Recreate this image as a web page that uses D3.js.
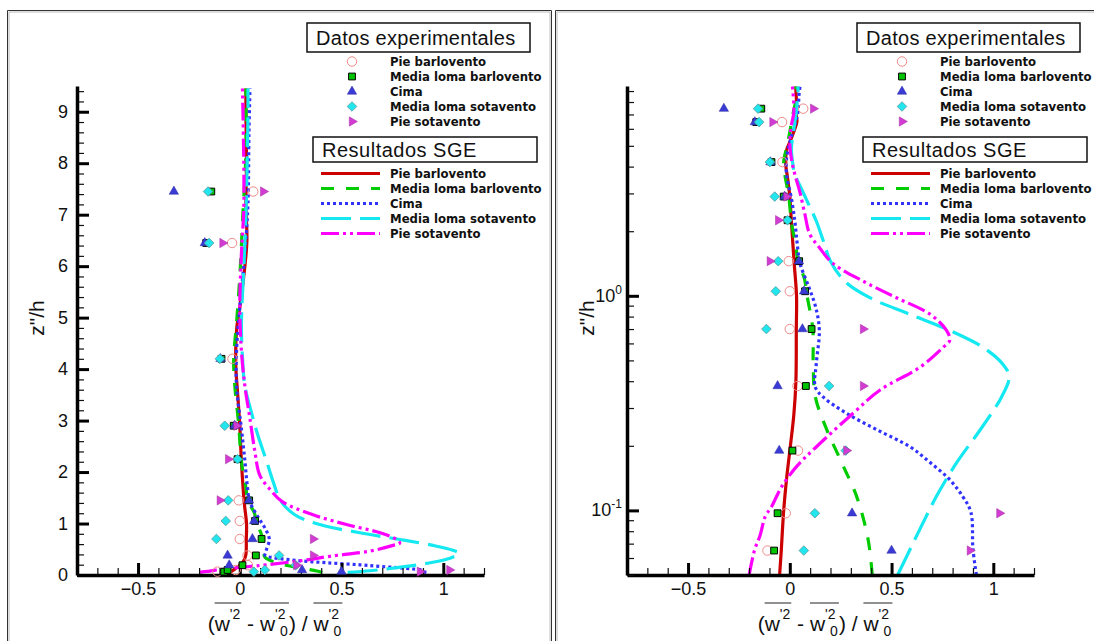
<!DOCTYPE html>
<html>
<head>
<meta charset="utf-8">
<script src="https://cdn.jsdelivr.net/npm/d3@7"></script>
<style>
  body { margin: 0; background: #fff; }
  svg text { fill: #111; }
</style>
</head>
<body>
<svg id="chart" width="1094" height="641" font-family="Liberation Sans, Arial, sans-serif"></svg>
<script>
// ---- data (z''/h on the vertical axis, normalised variance on the horizontal one)

// experimental measurement heights
const zExp = [0.065, 0.097, 0.19, 0.38, 0.70, 1.05, 1.45, 2.25, 2.9, 4.2, 6.45, 7.45];
const pieBarloventoExp = [-0.11, -0.02, 0.04, 0.038, 0.0, 0.0, -0.005, null, null, -0.036, -0.038, 0.066];
const mediaBarloventoExp = [-0.077, -0.06, 0.013, 0.079, 0.107, 0.075, 0.046, -0.011, -0.03, -0.09, -0.165, -0.14];
const cimaExp = [0.5, 0.306, -0.052, -0.06, 0.062, 0.07, 0.045, null, -0.025, -0.095, -0.172, -0.324];
const mediaSotaventoExp = [0.069, 0.123, 0.275, 0.193, -0.115, -0.069, -0.057, -0.011, -0.074, -0.098, -0.151, -0.156];
const pieSotaventoExp = [0.885, 1.03, 0.278, 0.36, 0.36, null, -0.098, -0.057, -0.016, null, -0.085, 0.115];

// LES (SGE) profiles
const pieBarloventoZ = [0.05, 0.065, 0.1, 0.14, 0.2, 0.28, 0.4, 0.7, 1.0, 1.4, 2.2, 2.9, 3.6, 4.1, 4.8, 5.2, 6.0, 6.5, 7.2, 8.0, 9.0, 9.45];
const pieBarloventoX = [-0.05, -0.042, -0.03, -0.016, 0.003, 0.02, 0.03, 0.032, 0.033, 0.022, 0.008, 0.0, -0.012, -0.02, -0.015, 0.0, 0.025, 0.035, 0.03, 0.033, 0.03, 0.03];

const mediaBarloventoZ = [0.05, 0.073, 0.115, 0.167, 0.24, 0.34, 0.48, 0.7, 1.0, 1.2, 1.45, 1.7, 2.2, 2.9, 3.7, 4.2, 4.9, 5.8, 7.0, 8.2, 9.45];
const mediaBarloventoX = [0.405, 0.385, 0.33, 0.255, 0.18, 0.125, 0.115, 0.113, 0.085, 0.072, 0.04, 0.03, 0.008, -0.005, -0.025, -0.03, -0.016, 0.0, 0.015, 0.03, 0.03];

const cimaZ = [0.05, 0.066, 0.098, 0.116, 0.139, 0.167, 0.198, 0.237, 0.283, 0.337, 0.376, 0.48, 0.69, 0.88, 1.09, 1.42, 1.8, 2.22, 2.84, 3.67, 4.35, 5.2, 6.25, 7.2, 8.6, 9.45];
const cimaX = [0.917, 0.9, 0.89, 0.85, 0.786, 0.69, 0.59, 0.43, 0.28, 0.165, 0.125, 0.13, 0.145, 0.128, 0.095, 0.05, 0.035, 0.025, 0.008, -0.016, -0.016, 0.0, 0.025, 0.04, 0.045, 0.05];

const mediaSotaventoZ = [0.05, 0.082, 0.116, 0.167, 0.237, 0.337, 0.42, 0.48, 0.575, 0.69, 0.82, 0.98, 1.17, 1.45, 1.8, 2.22, 2.7, 3.16, 3.67, 4.1, 4.85, 6.0, 7.0, 8.9, 9.45];
const mediaSotaventoX = [0.53, 0.64, 0.72, 0.82, 0.935, 1.04, 1.078, 1.047, 0.95, 0.786, 0.59, 0.393, 0.27, 0.2, 0.165, 0.131, 0.09, 0.057, 0.025, 0.015, 0.008, 0.02, 0.03, 0.04, 0.04];

const pieSotaventoZ = [0.05, 0.066, 0.076, 0.094, 0.104, 0.129, 0.16, 0.198, 0.283, 0.363, 0.465, 0.575, 0.62, 0.69, 0.82, 0.98, 1.17, 1.42, 1.67, 1.94, 2.4, 3.06, 3.67, 4.35, 5.2, 6.25, 7.2, 9.45];
const pieSotaventoX = [-0.2, -0.172, -0.147, -0.12, -0.09, -0.04, 0.033, 0.131, 0.31, 0.442, 0.64, 0.753, 0.786, 0.77, 0.69, 0.524, 0.36, 0.21, 0.147, 0.098, 0.074, 0.049, 0.025, 0.008, 0.0, 0.008, 0.02, 0.013];

const seriesNames = ["Pie barlovento", "Media loma barlovento", "Cima", "Media loma sotavento", "Pie sotavento"];
const xTickValues = [-0.5, 0, 0.5, 1];
const yLinTickValues = [0, 1, 2, 3, 4, 5, 6, 7, 8, 9];
const yLogTickValues = [0.1, 1];

// ---- styles
const expStyles = [
  {sym: d3.symbolCircle, size: 70, rot: 0, fill: "none", stroke: "#f08a8a", sw: 1},
  {sym: d3.symbolSquare, size: 46, rot: 0, fill: "#00c400", stroke: "#000", sw: 1},
  {sym: d3.symbolTriangle, size: 38, rot: 0, fill: "#3a3ad6", stroke: "#2a2aa0", sw: 0.5},
  {sym: d3.symbolSquare, size: 46, rot: 45, fill: "#22e6ee", stroke: "#5a9ea0", sw: 0.8},
  {sym: d3.symbolTriangle, size: 38, rot: 90, fill: "#d23cd2", stroke: "#a030a0", sw: 0.5}
];
const lineStyles = [
  {color: "#cc0000", dash: null},
  {color: "#00cc00", dash: "13,12"},
  {color: "#3232ff", dash: "3,3"},
  {color: "#14e8f0", dash: "30,9"},
  {color: "#ff00ff", dash: "18,4,3,4,3,4"}
];
const legendFont = "DejaVu Sans, Verdana, sans-serif";

const expValues = [pieBarloventoExp, mediaBarloventoExp, cimaExp, mediaSotaventoExp, pieSotaventoExp];
const sgeZ = [pieBarloventoZ, mediaBarloventoZ, cimaZ, mediaSotaventoZ, pieSotaventoZ];
const sgeX = [pieBarloventoX, mediaBarloventoX, cimaX, mediaSotaventoX, pieSotaventoX];

const svg = d3.select("#chart");
svg.append("rect").attr("width", 1094).attr("height", 641).attr("fill", "#fff");

// panel frames (thin double line like the original screenshot)
function frame(x0, x1) {
  svg.append("path")
    .attr("d", `M${x0},641 V10.5 H${x1} V641`)
    .attr("fill", "none").attr("stroke", "#333").attr("stroke-width", 1);
  svg.append("path")
    .attr("d", `M${x0 + 1.5},641 V12 H${x1 - 1.5} V641`)
    .attr("fill", "none").attr("stroke", "#bbb").attr("stroke-width", 1);
}
frame(7.5, 551.5);
frame(555.5, 1100);

function xLabel(g, cx, base) {
  const lg = g.append("g");
  const pieces = [
    {t: "("}, {t: "w", bar: "start"}, {t: "'2", sup: true, bar: "end"},
    {t: "\u00a0-\u00a0"}, {t: "w", bar: "start"}, {t: "'2", sup: true, sub: "0", bar: "end"},
    {t: ")\u00a0/\u00a0"}, {t: "w", bar: "start"}, {t: "'2", sup: true, sub: "0", bar: "end"}
  ];
  let cur = 0, barStart = 0;
  const bars = [];
  pieces.forEach(p => {
    let w;
    if (p.sup) {
      const s = lg.append("text").attr("x", cur).attr("y", -12).attr("font-size", 14).text(p.t);
      w = s.node().getComputedTextLength();
      if (p.sub) {
        const b = lg.append("text").attr("x", cur + 5).attr("y", 5).attr("font-size", 14).text(p.sub);
        w = Math.max(w, b.node().getComputedTextLength() + 5);
      }
      w += 1;
    } else {
      const s = lg.append("text").attr("x", cur).attr("y", 0).attr("font-size", 21).text(p.t);
      w = s.node().getComputedTextLength();
    }
    if (p.bar === "start") barStart = cur;
    cur += w;
    if (p.bar === "end") bars.push([barStart, cur]);
  });
  bars.forEach(b => {
    lg.append("line").attr("x1", b[0]).attr("x2", b[1]).attr("y1", -28).attr("y2", -28)
      .attr("stroke", "#222").attr("stroke-width", 1);
  });
  lg.attr("transform", `translate(${cx - cur / 2},${base})`);
}

function drawPanel(ox, isLog) {
  const g = svg.append("g");
  const x = d3.scaleLinear().domain([-0.8, 1.2]).range([77 + ox, 484 + ox]);
  const y = isLog
    ? d3.scaleLog().domain([0.05, 9.5]).range([575, 86])
    : d3.scaleLinear().domain([0, 9.5]).range([575, 86]);

  const clipId = "clip" + ox;
  g.append("clipPath").attr("id", clipId)
    .append("rect").attr("x", x.range()[0]).attr("y", 84)
    .attr("width", x.range()[1] - x.range()[0]).attr("height", 575 - 84);

  // SGE curves
  const line = d3.line()
    .x(d => x(d[1]))
    .y(d => y(d[0]))
    .curve(d3.curveCatmullRom.alpha(0.5));
  sgeZ.forEach((zs, i) => {
    const pts = zs.map((z, k) => [z, sgeX[i][k]]);
    g.append("path")
      .attr("clip-path", `url(#${clipId})`)
      .attr("d", line(pts))
      .attr("fill", "none")
      .attr("stroke", lineStyles[i].color)
      .attr("stroke-width", 3.2)
      .attr("stroke-dasharray", lineStyles[i].dash);
  });

  // axes: minor ticks first, then major ticks with labels
  const xMinor = d3.range(-8, 13).filter(i => i % 5 !== 0).map(i => i / 10);
  g.append("g").attr("transform", "translate(0,575)")
    .call(d3.axisBottom(x).tickValues(xMinor).tickSizeInner(-7).tickSizeOuter(0).tickFormat(""))
    .call(a => a.select(".domain").remove())
    .call(a => a.selectAll(".tick line").attr("stroke", "#111").attr("stroke-width", 1.2));
  g.append("g").attr("transform", "translate(0,575)")
    .call(d3.axisBottom(x).tickValues(xTickValues).tickSizeInner(-12).tickSizeOuter(0).tickPadding(7).tickFormat(d3.format("")))
    .call(a => a.select(".domain").attr("stroke", "#000").attr("stroke-width", 3.5))
    .call(a => a.selectAll(".tick line").attr("stroke", "#000").attr("stroke-width", 3))
    .call(a => a.selectAll(".tick text").attr("font-size", 18).attr("font-family", null).attr("fill", "#111"));

  let yMinor;
  if (isLog) {
    yMinor = [0.05, 0.06, 0.07, 0.08, 0.09, 0.2, 0.3, 0.4, 0.5, 0.6, 0.7, 0.8, 0.9, 2, 3, 4, 5, 6, 7, 8, 9];
  } else {
    yMinor = d3.range(1, 48).filter(i => i % 5 !== 0).map(i => i / 5);
  }
  const yAxisX = x.range()[0];
  g.append("g").attr("transform", `translate(${yAxisX},0)`)
    .call(d3.axisLeft(y).tickValues(yMinor).tickSizeInner(-7).tickSizeOuter(0).tickFormat(""))
    .call(a => a.select(".domain").remove())
    .call(a => a.selectAll(".tick line").attr("stroke", "#111").attr("stroke-width", 1.2));
  g.append("g").attr("transform", `translate(${yAxisX},0)`)
    .call(d3.axisLeft(y).tickValues(isLog ? yLogTickValues : yLinTickValues)
      .tickSizeInner(-12).tickSizeOuter(0).tickPadding(9)
      .tickFormat(isLog ? () => "" : d3.format("")))
    .call(a => a.select(".domain").attr("stroke", "#000").attr("stroke-width", 3.5))
    .call(a => a.selectAll(".tick line").attr("stroke", "#000").attr("stroke-width", 3))
    .call(a => a.selectAll(".tick text").attr("font-size", 18).attr("font-family", null).attr("fill", "#111"));
  if (isLog) {
    yLogTickValues.forEach(v => {
      const t = g.append("text").attr("x", yAxisX - 5).attr("y", y(v) + 6)
        .attr("text-anchor", "end").attr("font-size", 18);
      t.append("tspan").text("10");
      t.append("tspan").attr("dy", -8).attr("font-size", 12).text(String(Math.round(Math.log10(v))));
    });
  }

  // experimental markers
  expValues.forEach((vals, i) => {
    const st = expStyles[i];
    const sym = d3.symbol().type(st.sym).size(st.size);
    vals.forEach((v, k) => {
      if (v == null) return;
      g.append("path")
        .attr("transform", `translate(${x(v)},${y(zExp[k])}) rotate(${st.rot})`)
        .attr("d", sym())
        .attr("fill", st.fill).attr("stroke", st.stroke).attr("stroke-width", st.sw);
    });
  });

  // axis titles
  g.append("text")
    .attr("transform", `translate(${ox + 44},318) rotate(-90)`)
    .attr("text-anchor", "middle").attr("font-size", 21)
    .text('z"/h');
  xLabel(g, ox + 275, 631);

  // legend: experimental data
  const lx = ox;
  g.append("rect").attr("x", lx + 307).attr("y", 23).attr("width", 223).attr("height", 29)
    .attr("fill", "#fff").attr("stroke", "#111").attr("stroke-width", 1.5);
  g.append("text").attr("x", lx + 316).attr("y", 44.5).attr("font-size", 20)
    .attr("letter-spacing", 0.3).text("Datos experimentales");
  seriesNames.forEach((name, i) => {
    const st = expStyles[i];
    const ry = 61.5 + 15 * i;
    g.append("path")
      .attr("transform", `translate(${lx + 352},${ry}) rotate(${st.rot})`)
      .attr("d", d3.symbol().type(st.sym).size(st.size)())
      .attr("fill", st.fill).attr("stroke", st.stroke).attr("stroke-width", st.sw);
    g.append("text").attr("x", lx + 390).attr("y", ry + 4.5)
      .attr("font-family", legendFont).attr("font-weight", "bold")
      .attr("font-size", 11.7).text(name);
  });

  // legend: SGE results
  g.append("rect").attr("x", lx + 313).attr("y", 137).attr("width", 224).attr("height", 25)
    .attr("fill", "#fff").attr("stroke", "#111").attr("stroke-width", 1.5);
  g.append("text").attr("x", lx + 322).attr("y", 157).attr("font-size", 20)
    .attr("letter-spacing", 0.5).text("Resultados SGE");
  seriesNames.forEach((name, i) => {
    const ry = 173.5 + 15 * i;
    g.append("line").attr("x1", lx + 321).attr("x2", lx + 380).attr("y1", ry).attr("y2", ry)
      .attr("stroke", lineStyles[i].color).attr("stroke-width", 3.2)
      .attr("stroke-dasharray", lineStyles[i].dash);
    g.append("text").attr("x", lx + 390).attr("y", ry + 4.5)
      .attr("font-family", legendFont).attr("font-weight", "bold")
      .attr("font-size", 11.7).text(name);
  });
}

drawPanel(0, false);
drawPanel(550, true);
</script>
</body>
</html>
